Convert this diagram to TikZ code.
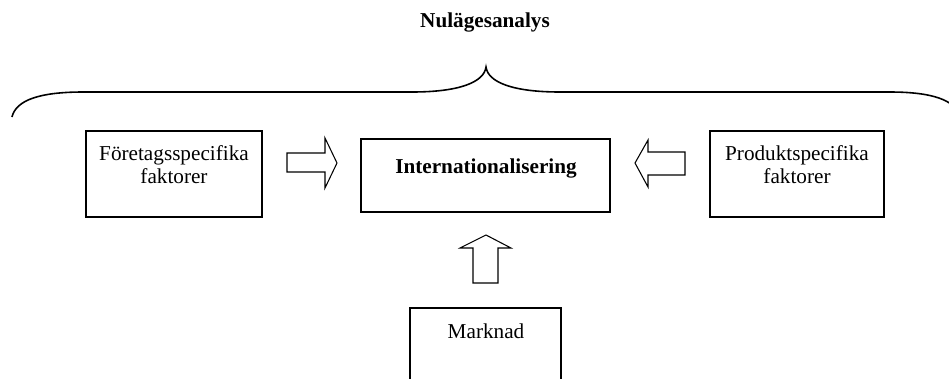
\documentclass[tikz,border=0pt]{standalone}
\usepackage{fontspec}
\setmainfont{Liberation Serif}
\usetikzlibrary{fit}
\begin{document}
\begin{tikzpicture}[x=0.566pt,y=-0.566pt,
  box/.style={draw, line width=0.8pt, inner sep=0pt},
  blockarrow/.style={draw, line width=0.6pt, line join=miter},
  txt/.style={font=\fontsize{12}{13}\selectfont, inner sep=0pt, align=center},
  brace/.style={draw, line width=0.9pt}]
\useasboundingbox (0,0) rectangle (949,378);
\clip (0,0) rectangle (949,378);
% title
\node[txt, font=\fontsize{12}{13}\selectfont\bfseries, anchor=base] (title) at (485,27) {Nulägesanalys};
% brace
\draw[brace] (12,117) .. controls (16,100) and (40,92) .. (83,92) -- (412,92)
  .. controls (460,92) and (484,82) .. (486,67)
  .. controls (488,82) and (512,92) .. (560,92) -- (890,92)
  .. controls (932,92) and (956,100) .. (960,117);
% boxes
\node[box, fit={(86,131) (262,217)}] (L) {};
\node[box, fit={(361,139) (610,212)}] (C) {};
\node[box, fit={(710,131) (884,217)}] (R) {};
\node[box, fit={(410,308) (561,420)}] (M) {};
% texts
\node[txt, anchor=north] (Lt) at (174,145) {Företagsspecifika\\faktorer};
\node[txt, anchor=north] (Rt) at (797,145) {Produktspecifika\\faktorer};
\node[txt, font=\fontsize{12}{13}\selectfont\bfseries, anchor=base] (Ct) at (486,173) {Internationalisering};
\node[txt, anchor=base] (Mt) at (486,338) {Marknad};
% block arrows
\draw[blockarrow] (287,153) -- (325,153) -- (325,138) -- (337,163) -- (325,188) -- (325,172) -- (287,172) -- cycle;
\draw[blockarrow] (685,152) -- (648,152) -- (648,140) -- (635,163) -- (648,187) -- (648,175) -- (685,175) -- cycle;
\draw[blockarrow] (473,283) -- (473,248) -- (460,248) -- (486,235) -- (511,248) -- (498,248) -- (498,283) -- cycle;
\end{tikzpicture}
\end{document}
